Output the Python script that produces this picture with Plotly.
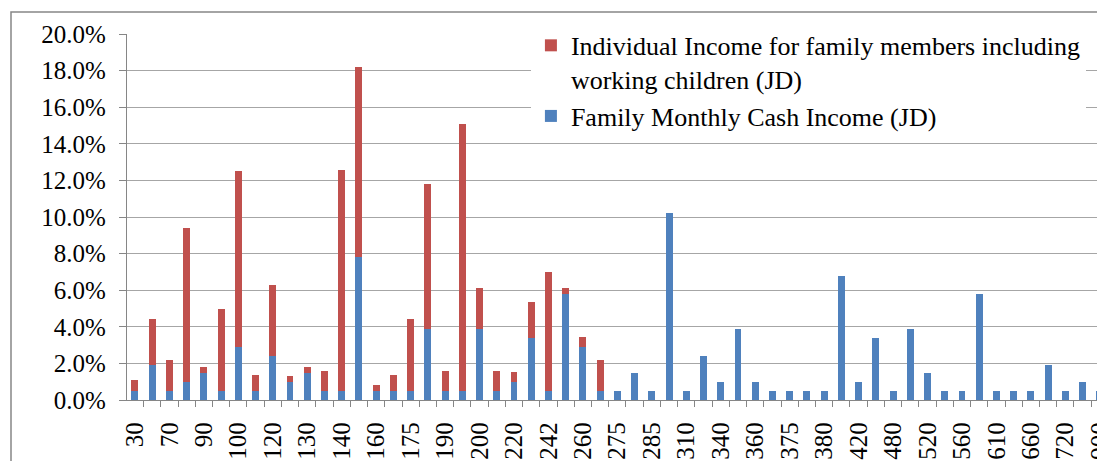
import plotly.graph_objects as go

categories = ["30", "50", "70", "80", "90", "95", "100", "110", "120", "125",
              "130", "135", "140", "150", "160", "170", "175", "180", "190", "195",
              "200", "210", "220", "230", "242", "250", "260", "270", "275", "280",
              "285", "300", "310", "320", "340", "350", "360", "370", "375", "378",
              "380", "400", "420", "450", "480", "500", "520", "540", "560", "600",
              "610", "650", "660", "700", "720", "800", "900"]

# Family Monthly Cash Income (JD), share of families
family_income = [0.005, 0.019, 0.005, 0.010, 0.015, 0.005, 0.029, 0.005, 0.024, 0.010,
                 0.015, 0.005, 0.005, 0.078, 0.005, 0.005, 0.005, 0.039, 0.005, 0.005,
                 0.039, 0.005, 0.010, 0.034, 0.005, 0.058, 0.029, 0.005, 0.005, 0.015,
                 0.005, 0.102, 0.005, 0.024, 0.010, 0.039, 0.010, 0.005, 0.005, 0.005,
                 0.005, 0.068, 0.010, 0.034, 0.005, 0.039, 0.015, 0.005, 0.005, 0.058,
                 0.005, 0.005, 0.005, 0.019, 0.005, 0.010, 0.005]

# Individual Income for family members including working children (JD)
individual_income = [0.006, 0.025, 0.017, 0.084, 0.003, 0.045, 0.096, 0.0085, 0.039, 0.003,
                     0.003, 0.011, 0.1205, 0.104, 0.003, 0.0085, 0.039, 0.079, 0.011, 0.146,
                     0.022, 0.011, 0.0055, 0.0195, 0.065, 0.003, 0.0055, 0.017, 0, 0,
                     0, 0, 0, 0, 0, 0, 0, 0, 0, 0,
                     0, 0, 0, 0, 0, 0, 0, 0, 0, 0,
                     0, 0, 0, 0, 0, 0, 0]

y_ticks = [0.0, 0.02, 0.04, 0.06, 0.08, 0.10, 0.12, 0.14, 0.16, 0.18, 0.20]

idx = list(range(len(categories)))
label_idx = idx[::2]
label_text = [categories[i] for i in label_idx]

FONT = "Liberation Serif"
BLUE = "#4F81BD"
RED = "#C0504D"

W, H = 1097, 453
L, T, B = 119, 26, 61
PW, PH = W - L, H - T - B

fig = go.Figure()
fig.add_trace(go.Bar(
    x=idx, y=family_income, name="Family Monthly Cash Income (JD)",
    marker=dict(color=BLUE, line=dict(width=0)), width=0.4,
))
fig.add_trace(go.Bar(
    x=idx, y=individual_income,
    name="Individual Income for family members including<br>working children (JD)",
    marker=dict(color=RED, line=dict(width=0)), width=0.4,
))

fig.update_layout(
    width=W, height=H,
    margin=dict(l=L, r=0, t=T, b=B, autoexpand=False),
    barmode="stack",
    paper_bgcolor="white", plot_bgcolor="white",
    font=dict(family=FONT, size=25, color="black"),
    showlegend=True,
    legend=dict(
        x=0.413, y=1.033, xanchor="left", yanchor="top",
        bgcolor="white", borderwidth=0,
        font=dict(family=FONT, size=26, color="black"),
        traceorder="reversed", valign="top",
    ),
    xaxis=dict(
        range=[-0.46, 56.3], tickmode="array", tickvals=label_idx, ticktext=label_text,
        tickangle=-90, ticks="", showgrid=False, zeroline=False,
        showline=True, linecolor="#868686", linewidth=1.3,
        tickfont=dict(family=FONT, size=25, color="black"),
        ticklabelstandoff=11, automargin=False, ticklabeloverflow="allow",
        minor=dict(ticks="outside", tick0=0.5, dtick=1, ticklen=6,
                   tickcolor="#868686", tickwidth=1.3, showgrid=False),
    ),
    yaxis=dict(
        range=[0, 0.2], tickmode="array", tickvals=y_ticks, tickformat=".1%",
        ticks="outside", ticklen=7, tickcolor="#868686", tickwidth=1.3,
        showgrid=True, gridcolor="#A6A6A6", gridwidth=1.3, zeroline=False,
        showline=True, linecolor="#868686", linewidth=1.3,
        tickfont=dict(family=FONT, size=25, color="black"),
        ticklabelstandoff=8, automargin=False,
    ),
    shapes=[dict(type="rect", xref="paper", yref="paper",
                 x0=(3 - L) / PW, x1=1.05, y0=-0.4, y1=(T + PH - 4) / PH,
                 line=dict(color="#868686", width=1.5), layer="below")],
)

fig.write_html("out.html")
